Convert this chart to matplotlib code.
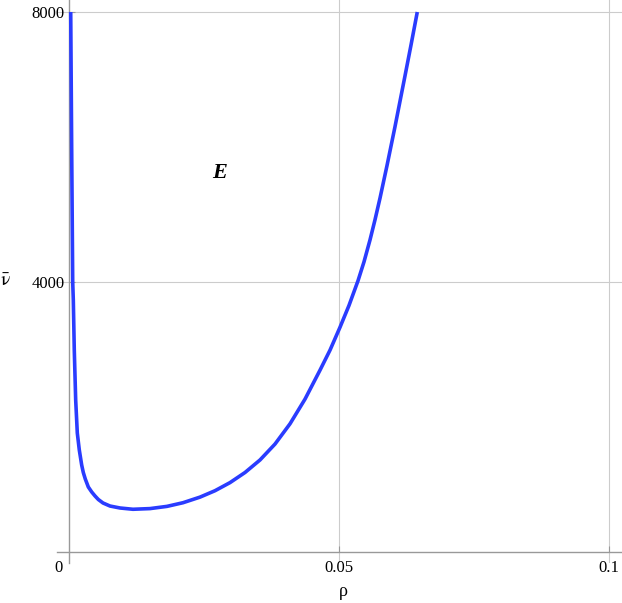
import matplotlib
matplotlib.use("Agg")
import matplotlib.pyplot as plt

# data (rho, nu-bar)
rho = [0.00041, 0.00059, 0.00078, 0.00089, 0.00107, 0.00133, 0.00163, 0.00200,
       0.00244, 0.00274, 0.00311, 0.00367, 0.00430, 0.00491, 0.00552, 0.00639,
       0.00769, 0.00954, 0.01194, 0.01509, 0.01824, 0.02120, 0.02435, 0.02713,
       0.02991, 0.03269, 0.03546, 0.03824, 0.04102, 0.04380, 0.04657, 0.04843,
       0.05028, 0.05194, 0.05361, 0.05472, 0.05583, 0.05676, 0.05769, 0.05898,
       0.06046, 0.06231, 0.06343, 0.06459]
nu = [8000, 5956, 4000, 3733, 2993, 2252, 1763, 1511,
      1289, 1178, 1081, 963, 889, 830, 778, 726,
      681, 652, 633, 643, 676, 730, 813, 908,
      1028, 1178, 1363, 1599, 1899, 2265, 2693, 2991,
      3330, 3652, 4018, 4298, 4622, 4922, 5244, 5724,
      6300, 7052, 7512, 8000]

x_ticks = [0.05, 0.1]
x_tick_labels = ["0.05", "0.1"]
y_ticks = [4000, 8000]
y_tick_labels = ["4000", "8000"]

W, H = 622, 603
fig = plt.figure(figsize=(W / 100, H / 100), dpi=100)

# pixel mapping: rho=0 at x=68.5, 5400 px per unit; nu=0 at y=552, 270 px per 4000
x0_px, sx = 68.5, 5400.0
y0_px, sy = 552.0, 270.0 / 4000.0
left_px, right_px, top_px, bottom_px = 57, 622, 0, 563
ax = fig.add_axes([left_px / W, 1 - bottom_px / H, (right_px - left_px) / W, (bottom_px - top_px) / H])
ax.set_xlim((left_px - x0_px) / sx, (right_px - x0_px) / sx)
ax.set_ylim((y0_px - bottom_px) / sy, (y0_px - top_px) / sy)

serif = "Liberation Serif"
axis_col = "#999999"
grid_col = "#cccccc"

for v in x_ticks:
    ax.axvline(v, color=grid_col, lw=0.8, zorder=0)
for v in y_ticks:
    ax.axhline(v, color=grid_col, lw=0.8, zorder=0)

ax.plot(rho, nu, color="#2a3cff", lw=2.6, solid_capstyle="butt",
        solid_joinstyle="round", zorder=3)

for s in ["top", "right"]:
    ax.spines[s].set_visible(False)
ax.spines["left"].set_position(("data", 0))
ax.spines["bottom"].set_position(("data", 0))
for s in ["left", "bottom"]:
    ax.spines[s].set_color(axis_col)
    ax.spines[s].set_linewidth(1.0)

ax.set_xticks(x_ticks)
ax.set_xticklabels(x_tick_labels, fontfamily=serif, fontsize=12)
ax.set_yticks(y_ticks)
ax.set_yticklabels(y_tick_labels, fontfamily=serif, fontsize=12)
ax.tick_params(axis="both", direction="in", length=4, color=axis_col, width=0.8)
ax.tick_params(axis="x", pad=6)
ax.tick_params(axis="y", pad=3)
ax.patch.set_alpha(0)

plt.rcParams["mathtext.fontset"] = "stix"
ax.text(-0.0019, -120, "0", fontfamily=serif, fontsize=12, ha="center", va="top")
fig.text(343 / W, 1 - 592 / H, "ρ", fontfamily=serif, fontsize=13, ha="center", va="center")
fig.text(5 / W, 1 - 281 / H, r"$\bar{\mathrm{\nu}}$", fontsize=14, ha="center", va="center")
ax.text(0.02806, 5615, "E", fontfamily=serif, fontsize=16, fontweight="bold",
        fontstyle="italic", ha="center", va="center")

fig.savefig("out.png", dpi=100)
